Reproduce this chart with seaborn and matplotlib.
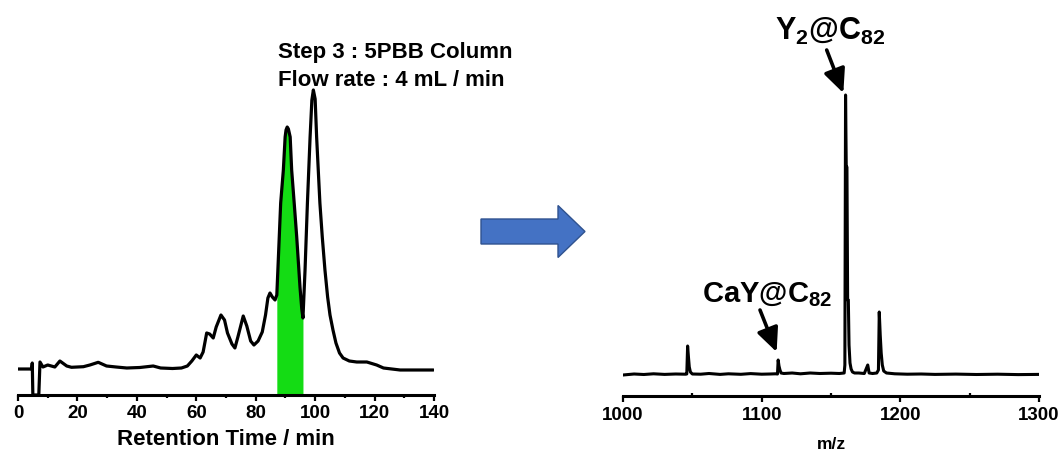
import matplotlib
matplotlib.use("Agg")
import matplotlib.pyplot as plt
import seaborn as sns
import numpy as np
import pandas as pd
from matplotlib.patches import FancyArrow
from matplotlib.ticker import MultipleLocator

# ---------------- data ----------------
# HPLC chromatogram (Step 3: 5PBB column), arbitrary detector units
rt_min = [0.0, 4.6, 4.8, 5.0, 7.0, 7.4, 8.4, 10.0, 12.4, 14.1, 16.4, 18.0, 22.0,
          24.2, 27.0, 29.8, 33.0, 36.6, 41.0, 45.5, 48.0, 52.0, 55.0, 57.0, 58.5,
          60.0, 61.3, 62.3, 63.5, 64.5, 65.7, 66.7, 68.3, 69.5, 70.5, 72.0, 73.0,
          74.0, 75.8, 77.0, 78.3, 79.4, 80.8, 82.2, 83.3, 84.1, 84.8, 85.6, 86.5,
          87.1, 87.5, 88.4, 89.3, 89.9, 90.2, 90.6, 91.0, 91.6, 92.1, 93.0, 93.8,
          94.9, 95.5, 95.9, 96.6, 97.4, 98.3, 98.9, 99.4, 100.0, 100.5, 101.6,
          102.4, 103.3, 104.2, 105.0, 106.0, 107.0, 108.2, 109.4, 111.5, 114.0,
          117.4, 120.7, 123.0, 128.6, 134.0, 139.8]
signal = [26, 26, 32, 0, 0, 33, 28, 30, 28, 34, 29, 27.7, 28.3,
          30, 32.7, 29, 28, 27, 27.5, 29, 27, 26.5, 27, 29, 34,
          40, 37, 43, 62, 61, 57, 68, 80, 75, 62, 51, 47,
          58, 79, 69, 54, 50, 54, 63, 80, 97, 102, 98, 95,
          100, 128, 192, 225, 258, 265, 268, 266, 258, 225, 190, 158,
          108, 86, 77, 125, 192, 258, 295, 305, 296, 258, 192,
          158, 125, 98, 80, 65, 52, 42, 37, 34, 33,
          33, 30, 27, 25, 25, 25]
collect_start, collect_end = 87.1, 95.9
rt_ticks = [0, 20, 40, 60, 80, 100, 120, 140]

# MALDI-TOF mass spectrum of the collected fraction
mz = [1000, 1008, 1015, 1022, 1030, 1038, 1045,
      1046.0, 1046.6, 1047.2, 1047.8, 1048.6, 1050,
      1056, 1062, 1070, 1076, 1085, 1092, 1100, 1106, 1110,
      1111.4, 1111.9, 1112.5, 1113.2, 1114, 1116,
      1122, 1128, 1135, 1142, 1150, 1156, 1159.5,
      1160.0, 1160.5, 1161.0, 1161.5, 1162.0, 1162.5, 1163.0, 1163.7, 1164.5, 1165.5, 1167,
      1170, 1174, 1176.5, 1177.5, 1180, 1183,
      1184.2, 1184.8, 1185.5, 1186.2, 1187.0, 1188.0, 1190,
      1196, 1205, 1215, 1225, 1240, 1255, 1270, 1285, 1300]
intensity = [0, 1, 0.5, 1.2, 0.6, 1.0, 0.8,
             1, 29, 18, 8, 3, 1,
             0.8, 1.5, 0.6, 1.2, 0.7, 1.4, 0.8, 1.0, 1.2,
             1, 15, 9, 5, 2, 1.5,
             2, 1.2, 2, 1.5, 1.8, 1.5, 2,
             10, 280, 208, 208, 75, 75, 30, 12, 6, 3, 2,
             2, 1.5, 10, 2, 1.5, 2,
             5, 63, 40, 22, 10, 4, 2,
             1.2, 0.8, 1.0, 0.6, 0.9, 0.5, 0.8, 0.4, 0.6]
mz_ticks = [1000, 1100, 1200, 1300]

labels = {"main": r"Y$_{2}$@C$_{82}$", "minor": r"CaY@C$_{82}$"}
main_peak = (1160.5, 280)
minor_peak = (1111.9, 15)

# ---------------- style ----------------
sns.set_theme(style="white")
plt.rcParams["font.family"] = ["Liberation Sans", "DejaVu Sans"]
plt.rcParams["font.weight"] = "bold"
plt.rcParams["text.color"] = "black"
plt.rcParams["axes.labelcolor"] = "black"
plt.rcParams["xtick.color"] = "black"
plt.rcParams["xtick.labelcolor"] = "black"
plt.rcParams["mathtext.fontset"] = "custom"
plt.rcParams["mathtext.rm"] = "Liberation Sans:bold"
plt.rcParams["mathtext.it"] = "Liberation Sans:bold"
plt.rcParams["mathtext.bf"] = "Liberation Sans:bold"
plt.rcParams["mathtext.default"] = "bf"

W, H = 1064, 457
fig = plt.figure(figsize=(W / 100, H / 100), dpi=100)
fig.patch.set_facecolor("white")

# ---------------- left: chromatogram ----------------
axL = fig.add_axes([18 / W, (H - 395) / H, 416 / W, 385 / H])
chrom = pd.DataFrame({"t": rt_min, "s": signal})
sns.lineplot(data=chrom, x="t", y="s", ax=axL, color="black", lw=2.3,
             sort=False, estimator=None)
sel = chrom[(chrom.t >= collect_start) & (chrom.t <= collect_end)]
axL.fill_between(sel.t, 0, sel.s, color="#14DC14", lw=0, zorder=1)
axL.set_xlim(0, 140)
axL.set_ylim(0, 385)
axL.set_xticks(rt_ticks)
axL.set_xticklabels([str(v) for v in rt_ticks], fontsize=13.5, fontweight="bold",
                    color="black")
axL.xaxis.set_minor_locator(MultipleLocator(10))
axL.tick_params(axis="x", which="major", direction="out", length=4, width=1.6,
                color="black", pad=3.5, bottom=True)
axL.tick_params(axis="x", which="minor", direction="out", length=2.5, width=1.6,
                color="black", bottom=True)
axL.set_yticks([])
for s in ["left", "right", "top"]:
    axL.spines[s].set_visible(False)
axL.spines["bottom"].set_linewidth(2.2)
axL.spines["bottom"].set_color("black")
axL.set_xlabel("Retention Time / min", fontsize=16, fontweight="bold", labelpad=5,
               color="black")
axL.set_ylabel("")
axL.text(87.5, 337, "Step 3 : 5PBB Column", fontsize=16, fontweight="bold",
         ha="left", va="baseline", color="black")
axL.text(87.5, 308.5, "Flow rate : 4 mL / min", fontsize=16, fontweight="bold",
         ha="left", va="baseline", color="black")

# ---------------- middle arrow ----------------
fig.patches.append(FancyArrow(481 / W, 1 - 231.5 / H, 104 / W, 0,
                              width=25 / H, head_width=52 / H, head_length=27 / W,
                              length_includes_head=True, transform=fig.transFigure,
                              facecolor="#4472C4", edgecolor="#2F528F", lw=1.0))

# ---------------- right: mass spectrum ----------------
axR = fig.add_axes([623 / W, (H - 396) / H, 416 / W, 386 / H])
spec = pd.DataFrame({"mz": mz, "i": intensity})
sns.lineplot(data=spec, x="mz", y="i", ax=axR, color="black", lw=2.2,
             sort=False, estimator=None)
axR.set_xlim(1000, 1300)
axR.set_ylim(-21, 365)
axR.set_xticks(mz_ticks)
axR.set_xticklabels([str(v) for v in mz_ticks], fontsize=13.5, fontweight="bold",
                    color="black")
axR.xaxis.set_minor_locator(MultipleLocator(50))
axR.tick_params(axis="x", which="major", direction="out", length=4, width=1.6,
                color="black", pad=4, bottom=True)
axR.tick_params(axis="x", which="minor", direction="in", length=2.5, width=1.6,
                color="black", bottom=True)
axR.set_yticks([])
for s in ["left", "right", "top"]:
    axR.spines[s].set_visible(False)
axR.spines["bottom"].set_linewidth(2.2)
axR.spines["bottom"].set_color("black")
axR.set_xlabel("m/z", fontsize=12.5, fontweight="bold", labelpad=9, color="black")
axR.set_ylabel("")

arrow_kw = dict(arrowstyle="-|>,head_length=1.2,head_width=0.55", color="black",
                lw=2.6, shrinkA=0, shrinkB=0)
axR.annotate("", xy=(main_peak[0] - 1.6, main_peak[1] + 2),
             xytext=(1146.9, 325), arrowprops=arrow_kw)
axR.text(1149.3, 335, labels["main"], fontsize=22, ha="center", va="baseline",
         color="black")
axR.annotate("", xy=(minor_peak[0] - 1.1, minor_peak[1] + 8),
             xytext=(1098.8, 65), arrowprops=arrow_kw)
axR.text(1104.2, 73, labels["minor"], fontsize=21, ha="center", va="baseline",
         color="black")

fig.savefig("out.png", dpi=100, facecolor="white")
